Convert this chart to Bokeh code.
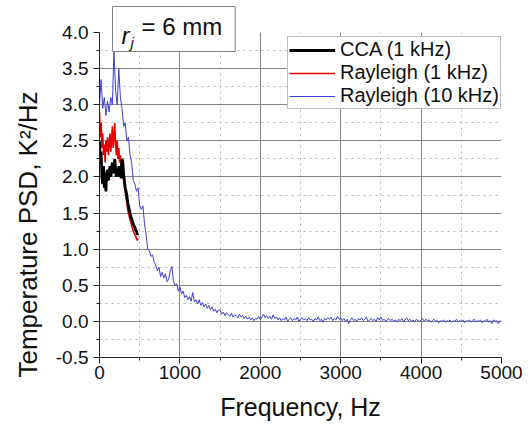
import numpy as np
from bokeh.plotting import figure
from bokeh.models import (Range1d, FixedTicker, Legend, LegendItem, Label,
                          Title, BoxAnnotation, CustomJSTickFormatter)
from bokeh.embed import file_html
from bokeh.resources import INLINE

# ---------------- data ----------------
# CCA (1 kHz) and Rayleigh (1 kHz): 10 Hz resolution, 0..480 Hz
low_step = 10
cca_1k = [2.5, 2.2, 2.35, 2.0, 1.9, 2.15, 1.85, 1.95, 1.8, 2.05,
          2.1, 1.95, 2.05, 2.15, 2.0, 2.1, 2.2, 2.05, 2.15, 2.25,
          2.1, 2.0, 2.1, 2.05, 2.15, 2.0, 2.1, 1.98, 2.25, 2.2,
          2.05, 1.95, 1.85, 1.8, 1.75, 1.65, 1.6, 1.55, 1.5, 1.45,
          1.42, 1.38, 1.35, 1.32, 1.3, 1.26, 1.25, 1.2, 1.22]
rayleigh_1k = [2.9, 2.55, 2.75, 2.4, 2.6, 2.3, 2.45, 2.2, 2.5, 2.35,
               2.55, 2.3, 2.45, 2.6, 2.35, 2.5, 2.7, 2.4, 2.55, 2.75,
               2.45, 2.3, 2.5, 2.25, 2.4, 2.2, 2.3, 2.1, 2.2, 2.0,
               1.95, 1.85, 1.8, 1.7, 1.65, 1.55, 1.5, 1.45, 1.4, 1.38,
               1.32, 1.3, 1.25, 1.22, 1.2, 1.18, 1.15, 1.12, 1.15]
# Rayleigh (10 kHz): 20 Hz resolution, 0..5000 Hz
high_step = 20
rayleigh_10k = [
    3.0, 3.35, 2.95, 3.1, 2.85, 3.05, 2.9, 3.1, 3.0, 3.75,
    3.2, 3.0, 3.5, 3.1, 2.95, 2.7, 2.75, 2.5, 2.55, 2.3,
    2.2, 1.95, 1.9, 1.8, 1.85, 1.6, 1.55, 1.6, 1.35, 1.2,
    1.0, 0.98, 0.9, 0.92, 0.82, 0.78, 0.7, 0.75, 0.62, 0.68,
    0.6, 0.66, 0.55, 0.58, 0.7, 0.76, 0.55, 0.5, 0.52, 0.42,
    0.48, 0.38, 0.42, 0.33, 0.36, 0.3, 0.34, 0.28, 0.4, 0.27,
    0.3, 0.24, 0.3, 0.22, 0.26, 0.2, 0.24, 0.18, 0.22, 0.16,
    0.2, 0.14, 0.17, 0.12, 0.16, 0.15, 0.1, 0.13, 0.08, 0.12,
    0.1, 0.07, 0.11, 0.06, 0.09, 0.08, 0.05, 0.1, 0.06, 0.08,
    0.04, 0.07, 0.03, 0.06, 0.02, 0.05, 0.01, 0.04, 0.03, 0.07,
    0.02, 0.06, 0.1, 0.05, 0.08, 0.04, 0.07, 0.03, 0.09, 0.04,
    0.06, 0.02, 0.05, 0.01, 0.04, 0.02, 0.06, 0.0, 0.03, 0.05,
    0.01, 0.04, 0.02, 0.06, 0.0, 0.03, 0.05, 0.02, 0.04, 0.01,
    0.05, 0.02, 0.03, 0.0, 0.04, 0.02, 0.06, 0.01, 0.03, -0.01,
    0.04, 0.02, 0.05, 0.03, 0.06, 0.01, 0.04, 0.02, 0.07, 0.03,
    0.05, 0.01, 0.04, 0.0, 0.03, -0.03, 0.02, 0.05, 0.01, 0.03,
    0.0, 0.04, 0.02, 0.05, 0.01, 0.03, 0.06, 0.0, 0.02, 0.04,
    0.01, 0.03, 0.0, 0.05, 0.02, 0.06, 0.01, 0.03, 0.0, 0.02,
    0.04, 0.01, 0.03, 0.0, 0.02, -0.01, 0.03, 0.01, 0.04, 0.0,
    0.02, 0.05, 0.01, 0.03, 0.0, 0.02, -0.01, 0.03, 0.01, 0.0,
    0.02, 0.04, 0.0, 0.03, 0.01, 0.02, -0.01, 0.01, 0.03, 0.0,
    0.01, -0.02, 0.01, 0.0, 0.02, -0.01, 0.01, 0.0, 0.02, -0.01,
    0.01, 0.0, 0.03, -0.01, 0.01, 0.0, 0.02, -0.02, 0.01, 0.0,
    0.02, -0.01, 0.01, 0.03, -0.01, 0.01, 0.0, 0.02, -0.02, 0.01,
    0.0, 0.03, -0.01, 0.01, -0.03, 0.02, 0.0, 0.01, -0.03, 0.01,
    -0.01]

series_labels = ["CCA (1 kHz)", "Rayleigh (1 kHz)", "Rayleigh (10 kHz)"]
x_ticks = [0, 1000, 2000, 3000, 4000, 5000]
y_ticks = [-0.5, 0.0, 0.5, 1.0, 1.5, 2.0, 2.5, 3.0, 3.5, 4.0]
y_axis_min, y_axis_max = -0.5, 4.0

f_low = np.arange(len(cca_1k)) * low_step
f_high = np.arange(len(rayleigh_10k)) * high_step

# ---------------- figure ----------------
W, H = 528, 428
FL, FR, FT, FB = 99, 27, 4, 71
AXIS_TOP_PX = 32                      # pixel row of the 4.0 tick
FRAME_H = H - FT - FB
PX_PER_UNIT = (H - FB - AXIS_TOP_PX) / (y_axis_max - y_axis_min)
y_top = y_axis_min + FRAME_H / PX_PER_UNIT   # room above 4.0 for the r_j box

p = figure(width=W, height=H, output_backend="svg", toolbar_location=None,
           x_range=Range1d(0, 5000), y_range=Range1d(y_axis_min, y_top),
           min_border_left=FL, min_border_right=FR,
           min_border_top=FT, min_border_bottom=FB)
p.outline_line_color = None
p.background_fill_color = "white"
p.border_fill_color = "white"

FONT = "Liberation Sans"
TXT = "#111111"

# axes
for ax in (p.xaxis[0], p.yaxis[0]):
    ax.axis_line_color = "#222222"
    ax.axis_line_width = 1
    ax.major_tick_line_color = "#222222"
    ax.minor_tick_line_color = "#222222"
    ax.major_tick_out = 6
    ax.major_tick_in = 0
    ax.minor_tick_out = 3
    ax.minor_tick_in = 0
    ax.major_label_text_font = FONT
    ax.major_label_text_font_size = "19px"
    ax.major_label_text_color = TXT
    ax.axis_label_text_font = FONT
    ax.axis_label_text_font_size = "25px"
    ax.axis_label_text_font_style = "normal"
    ax.axis_label_text_color = TXT

p.yaxis.bounds = (y_axis_min, y_axis_max)
p.xaxis.ticker = FixedTicker(ticks=x_ticks,
                             minor_ticks=[500, 1500, 2500, 3500, 4500])
p.yaxis.ticker = FixedTicker(ticks=y_ticks,
                             minor_ticks=[-0.25, 0.25, 0.75, 1.25, 1.75, 2.25,
                                          2.75, 3.25, 3.75])
p.yaxis.formatter = CustomJSTickFormatter(code="return tick.toFixed(1);")
p.xaxis.major_label_standoff = 2
p.yaxis.major_label_standoff = 5
p.xaxis.axis_label = "Frequency, Hz"
p.xaxis.axis_label_standoff = 11

ytitle = Title(text="Temperature PSD, K\u00b2/Hz", align="left", offset=-20,
               text_font=FONT, text_font_size="26px",
               text_font_style="normal", text_color=TXT, standoff=19)
p.add_layout(ytitle, "left")

# grids
p.xgrid.ticker = FixedTicker(ticks=[1000, 2000, 3000, 4000],
                             minor_ticks=[500, 1500, 2500, 3500, 4500])
p.ygrid.ticker = FixedTicker(ticks=[0.0, 0.5, 1.0, 1.5, 2.0, 2.5, 3.0, 3.5],
                             minor_ticks=[-0.25, 0.25, 0.75, 1.25, 1.75, 2.25,
                                          2.75, 3.25, 3.75])
for g in (p.xgrid[0], p.ygrid[0]):
    g.grid_line_color = "#858585"
    g.grid_line_width = 1
    g.minor_grid_line_color = "#b4b4b4"
    g.minor_grid_line_dash = "2 4"
    g.minor_grid_line_width = 1

# white band above the axis top (hides grid lines there)
p.add_layout(BoxAnnotation(bottom=y_axis_max, fill_color="white",
                           fill_alpha=1.0, line_alpha=0.0, level="underlay"))

# lines
r_blue = p.line(f_high, rayleigh_10k, line_color="#4040d4", line_width=1)
r_red = p.line(f_low, rayleigh_1k, line_color="#e80000", line_width=1.6)
r_black = p.line(f_low, cca_1k, line_color="#000000", line_width=2.8)

legend = Legend(items=[LegendItem(label=series_labels[0], renderers=[r_black]),
                       LegendItem(label=series_labels[1], renderers=[r_red]),
                       LegendItem(label=series_labels[2], renderers=[r_blue])],
                location=(188, 248))
legend.label_text_font = FONT
legend.label_text_font_size = "20px"
legend.label_text_color = TXT
legend.label_text_line_height = 1.0
legend.glyph_width = 46
legend.glyph_height = 22
legend.label_height = 22
legend.label_standoff = 5
legend.spacing = 0
legend.padding = 1
legend.margin = 0
legend.border_line_color = "#808080"
legend.border_line_width = 1
legend.background_fill_color = "white"
legend.background_fill_alpha = 1.0
p.add_layout(legend, "center")

# r_j annotation (positions in canvas pixels converted to data units)
def dx(px):
    return (px - FL) / (W - FL - FR) * 5000.0

def dy(py):
    return y_axis_min + (H - FB - py) / PX_PER_UNIT

box = Label(x=dx(112), y=dy(6), anchor="top_left", text="= 6 mm",
            text_font=FONT, text_font_size="24px", text_color=TXT,
            background_fill_color="white", border_line_color="#808080",
            border_line_width=1,
            padding=dict(left=29, right=13, top=6, bottom=12))
p.add_layout(box)
lab_r = Label(x=dx(121), y=dy(35), text="r", text_font=FONT,
              text_font_size="24px", text_font_style="italic",
              text_baseline="alphabetic", text_color=TXT)
lab_j = Label(x=dx(130), y=dy(42), text="j", text_font=FONT,
              text_font_size="15px", text_font_style="italic",
              text_baseline="alphabetic", text_color=TXT)
p.add_layout(lab_r)
p.add_layout(lab_j)

open("out.html", "w").write(file_html(p, INLINE))
